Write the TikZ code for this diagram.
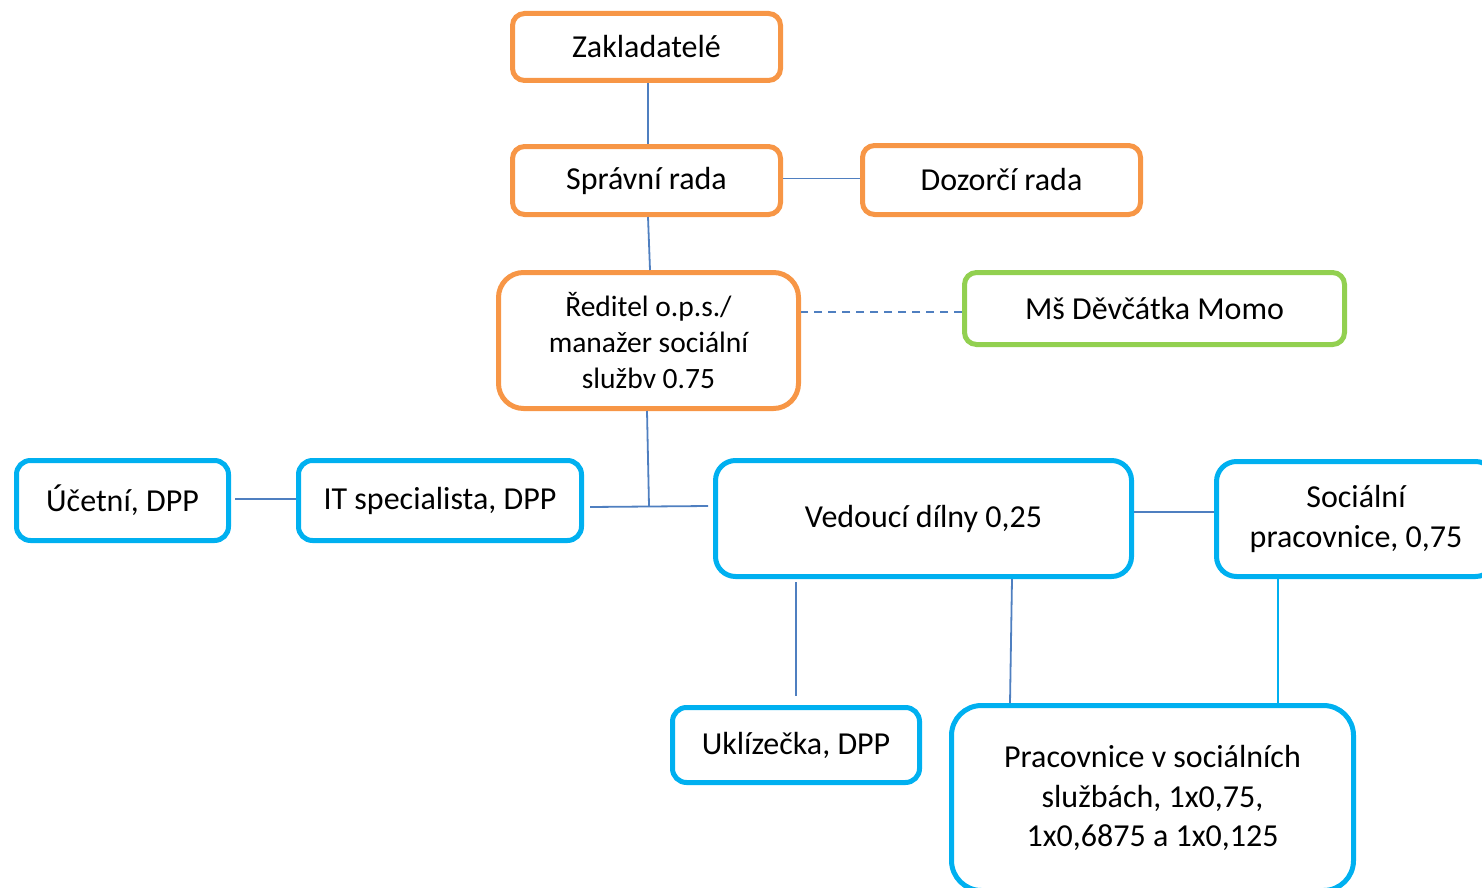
\documentclass[tikz,border=0pt]{standalone}
\usepackage{fontspec}
\setmainfont{Carlito}
\usetikzlibrary{positioning,calc}
\definecolor{orgorange}{HTML}{F79646}
\definecolor{orgblue}{HTML}{00B0F0}
\definecolor{orggreen}{HTML}{92D050}
\definecolor{linkblue}{HTML}{4F7FC0}
\tikzset{
    board/.style={
        rectangle,
        draw=orgorange,
        line width=5pt,
        rounded corners=12pt,
        align=center,
        font=\fontsize{32}{39.5}\selectfont,
    },
    staff/.style={
        rectangle,
        draw=orgblue,
        line width=5pt,
        rounded corners=14pt,
        align=center,
        font=\fontsize{32}{39.5}\selectfont,
    },
    partner/.style={
        rectangle,
        draw=orggreen,
        line width=5pt,
        rounded corners=12pt,
        align=center,
        font=\fontsize{32}{39.5}\selectfont,
    },
    link/.style={
        draw=linkblue,
        line width=1.8pt,
    },
    x=1pt, y=1pt,
}
\begin{document}
\begin{tikzpicture}
                \useasboundingbox (0,0) rectangle (1482,-888);
                \clip (0,0) rectangle (1482,-888);

                \node [board, minimum width=268, minimum height=67] (zak) at (646.5,-47) {Zakladatelé};

                \node [board, minimum width=268, minimum height=68] (spr) at (646.5,-180.5) {Správní rada};

                \node [board, minimum width=278, minimum height=69] (doz) at (1001.5,-180) {Dozorčí rada};

                \node [board, rounded corners=25pt, minimum width=300, minimum height=136,
                       font=\fontsize{29.5}{36}\selectfont] (red) at (648.5,-340.5)
                       {Ředitel o.p.s./\\manažer sociální\\službv 0.75};

                \node [partner, minimum width=380, minimum height=72] (ms) at (1154.5,-308.5) {Mš Děvčátka Momo};

                \node [staff, minimum width=212, minimum height=80] (uce) at (122.5,-500.5) {Účetní, DPP};

                \node [staff, minimum width=283, minimum height=80] (it) at (440,-500.5) {IT specialista, DPP};

                \node [staff, rounded corners=20pt, minimum width=416, minimum height=116] (ved) at (923.5,-518.5) {Vedoucí dílny 0,25};

                \node [staff, rounded corners=20pt, minimum width=279, minimum height=115] (soc) at (1356,-519) {Sociální\\pracovnice, 0,75};

                \node [staff, minimum width=247, minimum height=75] (ukl) at (796,-745) {Uklízečka, DPP};

                \node [staff, rounded corners=30pt, minimum width=402, minimum height=185] (pra) at (1152.5,-798)
                      {Pracovnice v sociálních\\službách, 1x0,75,\\1x0,6875 a 1x0,125};

                \coordinate (tj) at (649,-506);

                \draw [link] ([xshift=1.5]zak.south) -- ([xshift=1.5]spr.north);
                \draw [link] ([yshift=2]spr.east) -- ([yshift=2]spr.east -| doz.west);
                \draw [link] ([xshift=1.5]spr.south) -- ([xshift=1.5]red.north);
                \draw [link, dash pattern=on 8pt off 6pt] ([yshift=-3.5]ms.west) -- ([yshift=-3.5]ms.west -| red.east);
                \draw [link] ([xshift=-1.5]red.south) -- (tj);
                \draw [link] ([shift={(6,-6.5)}]it.east) -- ([xshift=-5]tj -| ved.west);
                \draw [link, shorten <=4pt] ([yshift=1.5]uce.east) -- ([yshift=1.5]uce.east -| it.west);
                \draw [link] ([yshift=6.5]ved.east) -- ([yshift=6.5]ved.east -| soc.west);
                \draw [link, shorten <=3pt, shorten >=9pt] (ved.south -| ukl.north) -- (ukl.north);
                \draw [link] ([xshift=88.5]ved.south) -- ([xshift=-142.5]pra.north);
                \draw [link, draw=orgblue] ([xshift=-78]soc.south) -- ([xshift=-78]soc.south |- pra.north);

\end{tikzpicture}
\end{document}
